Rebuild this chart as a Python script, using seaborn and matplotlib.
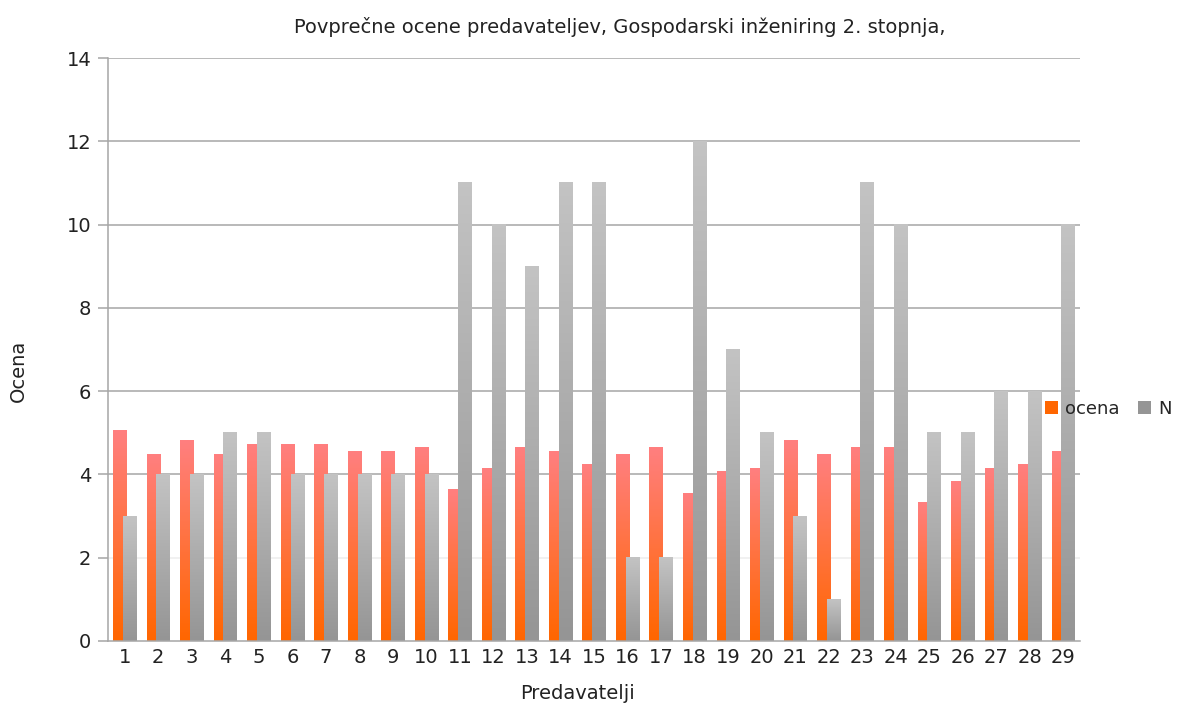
import matplotlib
matplotlib.use("Agg")
import matplotlib.pyplot as plt
import numpy as np
import pandas as pd
import seaborn as sns
from matplotlib.colors import LinearSegmentedColormap
from matplotlib.patches import Patch

# data
predavatelji = [str(i) for i in range(1, 30)]
ocena = [5.05, 4.47, 4.82, 4.47, 4.73, 4.73, 4.73, 4.55, 4.55, 4.64,
         3.65, 4.15, 4.64, 4.55, 4.23, 4.47, 4.64, 3.55, 4.06, 4.15,
         4.82, 4.47, 4.64, 4.64, 3.32, 3.82, 4.15, 4.23, 4.55]
n_ocen = [3, 4, 4, 5, 5, 4, 4, 4, 4, 4,
          11, 10, 9, 11, 11, 2, 2, 12, 7, 5,
          3, 1, 11, 10, 5, 5, 6, 6, 10]
serije = ["ocena", "N"]

df = pd.DataFrame({
    "Predavatelji": predavatelji * 2,
    "vrednost": ocena + n_ocen,
    "serija": ["ocena"] * len(ocena) + ["N"] * len(n_ocen),
})

# gradient colours (top -> bottom of each bar)
grad = {
    "ocena": ("#ff7f7f", "#ff6600"),
    "N": ("#c3c3c3", "#959595"),
}

sns.set_theme(style="white")
plt.rcParams["font.family"] = ["DejaVu Sans"]

fig = plt.figure(figsize=(11.78, 7.04), dpi=100)
ax = fig.add_axes([108 / 1178, 63 / 704, 972 / 1178, 583 / 704])

sns.barplot(data=df, x="Predavatelji", y="vrednost", hue="serija",
            hue_order=serije, palette=[grad[s][1] for s in serije],
            width=0.58, legend=False, ax=ax)

# widen bars a bit so pairs overlap slightly, then paint a vertical gradient
for cont, s in zip(ax.containers, serije):
    cmap = LinearSegmentedColormap.from_list(s, [grad[s][1], grad[s][0]])
    for bar in cont:
        cx = bar.get_x() + bar.get_width() / 2
        w = 0.40
        h = bar.get_height()
        ax.imshow(np.linspace(0, 1, 100).reshape(-1, 1), cmap=cmap,
                  origin="lower", aspect="auto",
                  extent=(cx - w / 2, cx + w / 2, 0, h), zorder=2)
        bar.set_visible(False)

ax.set_xlim(-0.5, len(predavatelji) - 0.5)
ax.set_ylim(0, 14)
ax.set_yticks(range(0, 15, 2))

# horizontal grid lines
for v in range(2, 15, 2):
    ax.axhline(v, color="#eeeeee" if v == 2 else "#a6a6a6", lw=1.1, zorder=1)

for side in ["top", "right"]:
    ax.spines[side].set_visible(False)
ax.spines["left"].set_color("#a6a6a6")
ax.spines["bottom"].set_color("#a6a6a6")
ax.spines["left"].set_linewidth(1.1)
ax.spines["bottom"].set_linewidth(1.1)
ax.tick_params(axis="y", length=7, width=1.1, color="#a6a6a6",
               labelsize=14, pad=5, left=True, labelcolor="#222222")
ax.tick_params(axis="x", length=0, labelsize=14, pad=5, labelcolor="#222222")

ax.set_xlabel("Predavatelji", fontsize=14, color="#222222")
ax.set_ylabel("Ocena", fontsize=14, color="#222222")
ax.xaxis.set_label_coords(0.4835, -0.073)
ax.yaxis.set_label_coords(-0.082, 0.463)
fig.text(0.526, 0.962, "Povprečne ocene predavateljev, Gospodarski inženiring 2. stopnja,",
         ha="center", va="center", fontsize=14, color="#222222")

handles = [Patch(facecolor=grad[s][1], edgecolor="none") for s in serije]
fig.legend(handles, serije, loc="center left", bbox_to_anchor=(0.887, 0.419),
           ncol=2, frameon=False, fontsize=13, handlelength=0.7,
           handleheight=0.7, handletextpad=0.4, columnspacing=1.05,
           borderaxespad=0, borderpad=0)

fig.savefig("out.png", dpi=100)
